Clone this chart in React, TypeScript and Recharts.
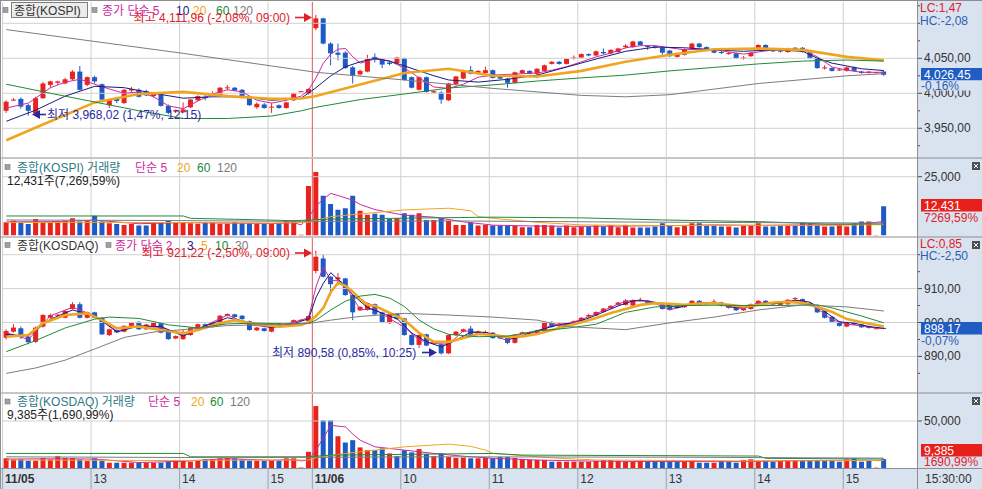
import React from 'react';
import { ComposedChart, Bar, Line, XAxis, YAxis, ReferenceLine, Cell } from 'recharts';

type Ohlc = [number, number, number, number];
type Pt = [number, number];

// 5-minute slots: 11/05 12:00 .. 15:25 (0-41), 11/06 09:00 .. 15:25 (42-119), 4 empty slots
const SLOT_COUNT = 124;
const HOUR_SLOTS = [0, 12, 24, 36, 42, 54, 66, 78, 90, 102, 114];
const HOUR_LABELS = ['11/05', '13', '14', '15', '11/06', '10', '11', '12', '13', '14', '15'];
const DAY_SLOT = 42;

// [open, high, low, close]
const kospiCandles: Ohlc[] = [
  [3975, 3990, 3972, 3988], [3990, 3993, 3989, 3991], [3992, 3994, 3978, 3981], [3983, 3985, 3968.02, 3975],
  [3971, 3995, 3970, 3993], [3993, 4016, 3992, 4014], [4012, 4018, 4008, 4017], [4015, 4018, 4012, 4017],
  [4014, 4022, 4013, 4020], [4020, 4033, 4019, 4031], [4031, 4039, 4004, 4005], [4012, 4024, 4010, 4023],
  [4023, 4025, 4014, 4017], [4013, 4014, 3989, 3991], [3983, 3992, 3979, 3991], [3992, 3995, 3986, 3989],
  [3986, 4006, 3985, 4005], [4004, 4009, 4002, 4006], [4005, 4007, 3994, 3995], [4003, 4005, 3996, 3997],
  [3996, 4001, 3994, 4000], [4000, 4001, 3981, 3982], [3982, 3984, 3970, 3972], [3974, 3977, 3972, 3976],
  [3973, 3987, 3972, 3977], [3980, 3992, 3979, 3991], [3990, 3997, 3989, 3996], [3995, 3998, 3990, 3993],
  [3997, 4003, 3996, 3999], [3996, 4009, 3995, 4008], [4008, 4012, 4004, 4008.5], [4008, 4009, 4003, 4004],
  [4005, 4006, 3993, 3994], [3995, 3996, 3982, 3983], [3980, 3987, 3978, 3985], [3984, 3986, 3978, 3979],
  [3980, 3986, 3972, 3981], [3983, 3984, 3978, 3979], [3979, 3988, 3978, 3987], [3990, 4001, 3989, 4000],
  [4002, 4003.5, 4002, 4003], [3999, 4007, 3998, 4006],
  [4093, 4111.96, 4090, 4107], [4107, 4108, 4070, 4071], [4071, 4073, 4040, 4057], [4058, 4071, 4047, 4055],
  [4058, 4060, 4035, 4036], [4037, 4039, 4014, 4025], [4027, 4034, 4025, 4032], [4031, 4055, 4030, 4049],
  [4052, 4057, 4044, 4048], [4048, 4050, 4036, 4041], [4044, 4046, 4040, 4042], [4043, 4052, 4042, 4051],
  [4050, 4051, 4018, 4019], [4023, 4024, 4007, 4008], [4005, 4024, 4004, 4023], [4023, 4024, 4001, 4002],
  [4001, 4004, 4000, 4003], [4001, 4003, 3985, 3991], [3990, 4015, 3989, 4014], [4013, 4025, 4012, 4024],
  [4021, 4034, 4020, 4033], [4033, 4039, 4027, 4028], [4029, 4033, 4028, 4032], [4029, 4038, 4028, 4033],
  [4033, 4034, 4021, 4022], [4024, 4025, 4020, 4021], [4021, 4022, 4008, 4015], [4015, 4031, 4014, 4030],
  [4029, 4034, 4028, 4033], [4032, 4033, 4027, 4028], [4028, 4036, 4022, 4035], [4032, 4041, 4031, 4040],
  [4042, 4046, 4041, 4045], [4045, 4046, 4041, 4042], [4042, 4050, 4041, 4049], [4050, 4054, 4048, 4051],
  [4051, 4057, 4050, 4056], [4056, 4057, 4053, 4054], [4054, 4061, 4053, 4060], [4059, 4064, 4056, 4057],
  [4057, 4063, 4056, 4062], [4059, 4065, 4058, 4064], [4066, 4070, 4064, 4068], [4066, 4075, 4065, 4074],
  [4074, 4075, 4068, 4069], [4068, 4069, 4062, 4066], [4067, 4068, 4064, 4065], [4065, 4066, 4055, 4058],
  [4061, 4062, 4052, 4053], [4052, 4058, 4051, 4057], [4055, 4064, 4054, 4063], [4064, 4072, 4063, 4071],
  [4071, 4072, 4065, 4066], [4066, 4067, 4062, 4063], [4063, 4064, 4057, 4058], [4059, 4061, 4056, 4058],
  [4057, 4059, 4055, 4057.5], [4057, 4058, 4049, 4050], [4050, 4053, 4048, 4051], [4053, 4059, 4052, 4058],
  [4063, 4070, 4062, 4069], [4069, 4070, 4063, 4064], [4064, 4065, 4059, 4060], [4061, 4063, 4058, 4060],
  [4059, 4065, 4058, 4064], [4065, 4066, 4061, 4062], [4065, 4066, 4058, 4059], [4058, 4059, 4049, 4050],
  [4050, 4051, 4035, 4036], [4036, 4040, 4034, 4037], [4036, 4037, 4031, 4032], [4033, 4036, 4032, 4034],
  [4032, 4038, 4031, 4037], [4037, 4038, 4031, 4032], [4031, 4032, 4028, 4029], [4029, 4032, 4028, 4031],
  [4030, 4030.5, 4029.5, 4030], [4031, 4032, 4025, 4026.45],
];

const kosdaqCandles: Ohlc[] = [
  [895.5, 898, 895, 897.5], [897.3, 899.5, 897, 898.5], [898.3, 898.8, 895.2, 895.7], [895.8, 896.2, 893.6, 894.2],
  [894.3, 898.8, 894, 898.5], [898.8, 902.5, 898.5, 902.2], [901.4, 902.6, 901.2, 902.2], [902, 902.6, 901.8, 902.3],
  [901.4, 903.6, 901.2, 903.4], [904, 906, 903.8, 905.4], [905.4, 906, 901.2, 901.4], [901.4, 903.2, 901.2, 903],
  [903, 903.2, 901.2, 901.4], [901.4, 901.6, 896.3, 896.5], [896.3, 898.2, 896, 898], [897.8, 898, 896.9, 897.1],
  [897.3, 899.2, 897.1, 899], [899, 900.2, 898.8, 900], [900.2, 900.4, 897.8, 898], [898, 899.6, 897.8, 899.4],
  [899, 900.2, 898.8, 900], [899.8, 900, 896.8, 897], [897.3, 897.5, 894.9, 895.1], [895.3, 896.2, 895.1, 896],
  [895.1, 898, 894.9, 896.8], [896.3, 898.7, 896.1, 898.5], [898.4, 899.7, 898.2, 899.5], [899.5, 899.7, 898.5, 898.7],
  [898.7, 900, 898.5, 899.8], [899.3, 902.2, 899.1, 902], [902, 902.7, 901.8, 902.5], [902.4, 902.6, 901.4, 901.6],
  [902, 902.2, 900.8, 901], [900.4, 900.6, 897.6, 897.8], [897.7, 898.7, 897.5, 898.5], [898.3, 898.5, 897.3, 897.5],
  [897.3, 899.7, 897.1, 899.5], [899.7, 899.9, 898.6, 898.8], [898.9, 899.7, 898.7, 899.5], [899.3, 900.9, 899.1, 900.7],
  [900.7, 900.9, 900.7, 900.8], [900.4, 902.1, 900.2, 901.9],
  [915.2, 921.22, 914.5, 919.4], [918.9, 920.1, 913.3, 913.5], [913.5, 913.7, 908, 911.3], [912.7, 914.6, 911, 913.3],
  [913, 913.2, 907.9, 908.1], [908.1, 908.3, 900.7, 903], [903.6, 904.8, 903.4, 904.6], [903.7, 905.9, 903.5, 905.7],
  [905.4, 905.6, 902.2, 902.4], [903, 903.2, 899.8, 900], [899.8, 902.4, 899.6, 902.2], [902.6, 902.8, 900.8, 901],
  [901.2, 901.4, 896.1, 896.3], [896.3, 896.5, 893.2, 893.4], [893.4, 896.5, 892.5, 896.3], [896.5, 896.7, 893, 893.2],
  [893.7, 894.6, 893.5, 894.4], [893.6, 893.8, 890.58, 890.9], [890.9, 896.5, 890.7, 896.3], [896.3, 897.5, 896.1, 897.3],
  [897.3, 898.2, 897.1, 898], [898.2, 899, 896.2, 896.4], [896.7, 897.6, 896.5, 897.4], [897.1, 897.6, 896.9, 897.2],
  [897, 897.2, 895.2, 895.4], [895.9, 896.1, 895.1, 895.3], [895.9, 896.1, 893.6, 894], [894, 896.6, 893.8, 896.4],
  [896.6, 897.3, 896.4, 897.1], [896.7, 897.4, 896.5, 897.2], [896.8, 897.9, 896.6, 897.7], [897.5, 900.1, 897.3, 899.9],
  [900, 900.4, 898.5, 898.7], [898.9, 899.9, 898.7, 899.7], [899, 899.8, 898.8, 899.6], [899.3, 900.6, 899.1, 900.4],
  [900.4, 901.6, 900.2, 901.4], [901.8, 902.6, 901.4, 902.2], [902.1, 903.3, 901.9, 903.1], [903.1, 904.3, 902.9, 904.1],
  [904.2, 905.1, 904, 904.9], [905.2, 906.1, 905, 905.9], [905.2, 906.9, 905, 906.5], [905, 906.8, 904.8, 906.6],
  [906.6, 907.3, 906.2, 906.7], [906.3, 906.5, 905.6, 905.8], [906, 906.2, 905.3, 905.5], [905.7, 905.9, 903.8, 904],
  [905, 905.2, 903.5, 903.7], [905, 905.2, 904.2, 904.4], [904.5, 905.4, 904.3, 905.2], [905.2, 906.6, 905, 906.4],
  [906.4, 906.6, 905.2, 905.4], [905.8, 906, 905.2, 905.4], [906, 906.8, 905.6, 906.2], [905.9, 906.1, 904.7, 904.9],
  [904.9, 905.1, 904.1, 904.3], [904.6, 904.8, 903.4, 903.6], [903.6, 904.7, 903.4, 904.5], [904, 905.6, 903.8, 905.4],
  [905.4, 906.6, 905.2, 906.4], [906.4, 906.6, 905.2, 905.4], [905.9, 906.1, 905.2, 905.4], [905.2, 906.1, 905, 905.9],
  [905.4, 906.9, 905.2, 906.7], [906.9, 907.5, 906.7, 907.2], [906.9, 907.1, 905.5, 905.7], [905.7, 905.9, 905, 905.2],
  [905, 905.2, 902.8, 903], [903.4, 903.6, 901.2, 901.4], [901.7, 901.9, 900, 900.2], [900.2, 900.4, 898.8, 899],
  [898.8, 900.2, 898.6, 900], [900.1, 900.3, 899.2, 899.4], [899.4, 899.6, 898.4, 898.6], [898.9, 899.1, 898.2, 898.4],
  [898.3, 898.4, 898.2, 898.3], [898.4, 898.6, 898, 898.17],
];

const kospiVolume = [
  5600, 6300, 5500, 4900, 7000, 5500, 5500, 6000, 6300, 7300, 6000, 6300, 8400, 6000, 5200, 4900, 4500, 4900, 4200, 4200,
  5300, 5500, 6300, 5300, 5300, 5200, 5000, 5600, 5600, 5000, 5000, 5600, 5200, 5200, 5000, 5000, 4900, 5200, 6300, 6200,
  300, 21100,
  27000, 16900, 13400, 10900, 11600, 16900, 10500, 8800, 9200, 8800, 7000, 7300, 9500, 8800, 9500, 6600, 6600, 7300,
  6200, 4500, 4500, 5500, 4200, 4500, 4200, 4200, 4000, 4000, 3500, 3500, 4500, 4500, 4200, 3400, 4200, 3500, 3800, 3800,
  4200, 3800, 4500, 3500, 4500, 3400, 3400, 3400, 3800, 5200, 4200, 3500, 4500, 5200, 5200, 4500, 4200, 3800, 3800, 3400,
  4200, 4500, 5200, 3800, 3800, 4200, 4200, 4500, 5500, 5200, 4500, 3800, 3800, 4500, 3800, 5200, 6000, 6000, 200, 12431,
];

const kosdaqVolume = [
  10300, 9200, 9500, 7700, 7700, 10700, 9200, 12500, 10700, 10700, 9200, 7400, 10300, 7400, 5600, 5600, 5600, 5600, 5600, 5600,
  5600, 5600, 6700, 7700, 7700, 6700, 7700, 9200, 9500, 10300, 10700, 10300, 9200, 7700, 7700, 7700, 8500, 7700, 10300, 10300,
  500, 17200,
  65900, 50700, 50700, 33800, 27100, 29600, 21900, 19000, 19000, 20800, 15500, 12600, 19000, 16600, 20100, 14800, 12600, 15500,
  11800, 10700, 11100, 10300, 10300, 11100, 10300, 11800, 11800, 10700, 9200, 8500, 8500, 8500, 6700, 6700, 6700, 6700, 6700, 6700,
  7700, 8500, 8500, 7700, 6700, 6700, 7700, 6700, 6700, 6700, 6700, 6700, 6700, 7700, 5600, 5600, 5600, 7700, 6700, 5600,
  8500, 9200, 7700, 7700, 6700, 7700, 8500, 8500, 8500, 7700, 8500, 7700, 7700, 6700, 9200, 10300, 6700, 7700, 400, 9385,
];

// moving averages: [slot, value]
const kospiMa5: Pt[] = [
  [0, 3979], [3, 3986], [6, 4008], [8, 4016], [10, 4020], [12, 4013], [14, 4006], [16, 4000], [18, 4002], [20, 3995],
  [22, 3982], [24, 3978], [26, 3989], [28, 3999], [30, 4005], [32, 4002], [34, 3990], [36, 3986], [38, 3990], [40, 3996],
  [41, 4005], [42, 4022], [43, 4043], [44, 4056], [45, 4063], [46, 4064], [47, 4052], [48, 4043], [50, 4049], [52, 4046],
  [54, 4036], [56, 4022], [58, 4009], [60, 4007], [62, 4013], [64, 4023], [66, 4026], [68, 4027], [70, 4028], [72, 4029],
  [74, 4033], [76, 4038], [78, 4045], [80, 4052], [82, 4057.5], [84, 4065], [86, 4068], [88, 4068], [90, 4065], [92, 4062],
  [94, 4063], [96, 4062.5], [98, 4059], [100, 4056], [102, 4059], [104, 4062], [106, 4062], [108, 4062.5], [110, 4052],
  [112, 4037.5], [114, 4033], [116, 4030], [119, 4030],
];
const kospiMa10: Pt[] = [
  [0, 3960], [4, 3976], [8, 3996], [12, 4010], [16, 4008], [20, 4000], [24, 3993], [28, 3995], [32, 3995], [36, 3990],
  [40, 3993], [42, 4008], [44, 4025], [46, 4038], [48, 4045], [50, 4050], [52, 4046], [54, 4039], [56, 4032], [58, 4025],
  [60, 4019], [64, 4016], [68, 4020], [72, 4026], [76, 4037.5], [80, 4049], [84, 4060], [88, 4066], [92, 4065], [96, 4062],
  [100, 4060], [104, 4062], [108, 4060], [110, 4050], [112, 4043], [116, 4035], [119, 4032.5],
];
const kospiMa20: Pt[] = [
  [0, 3933], [6, 3960], [12, 3987], [18, 3999], [24, 4002], [30, 3996], [36, 3992], [40, 3992.5], [42, 3996], [48, 4012.5],
  [54, 4029], [60, 4035], [63, 4030], [66, 4025], [72, 4024], [78, 4032], [84, 4045], [90, 4055], [96, 4063], [102, 4064],
  [108, 4062], [114, 4052], [119, 4047],
];
const kospiMa60: Pt[] = [
  [0, 4013], [6, 4000], [12, 3987.5], [18, 3975], [24, 3964], [30, 3964], [36, 3967.5], [40, 3975], [42, 3980], [48, 3991],
  [54, 3999], [60, 4007.5], [66, 4012], [72, 4017.5], [78, 4022], [84, 4026], [90, 4032], [96, 4037], [102, 4042], [108, 4046],
  [114, 4047.5], [119, 4046],
];
const kospiMa120: Pt[] = [
  [0, 4091], [12, 4074], [24, 4057], [36, 4039], [42, 4030], [54, 4019], [66, 4007], [78, 3997], [84, 3995], [90, 3998],
  [102, 4014], [114, 4025], [119, 4028],
];

const kosdaqMa2: Pt[] = [
  [0, 897], [3, 895], [6, 902], [9, 904.5], [12, 902], [15, 897.5], [18, 899], [21, 898.5], [24, 896.4], [27, 899.1],
  [30, 902.2], [33, 899.4], [36, 898.5], [39, 900.1], [41, 901.4], [42, 910.6], [43, 916.4], [44, 912.4], [45, 912.3],
  [46, 910.7], [48, 903.8], [50, 904], [52, 901.1], [54, 898.6], [56, 894.8], [58, 893.8], [60, 893.6], [62, 897.6],
  [64, 896.9], [66, 896.3], [68, 894.6], [70, 896.8], [72, 897.2], [74, 899.3], [76, 899.6], [78, 900.9], [80, 902.6],
  [82, 904.5], [84, 906.3], [86, 906.6], [88, 905.6], [90, 903.8], [92, 904.8], [94, 905.9], [96, 905.8], [98, 904.6],
  [100, 904.1], [102, 905.9], [104, 905.4], [106, 906.3], [108, 906.4], [110, 904.1], [112, 900.8], [114, 899.5],
  [116, 899], [118, 898.4], [119, 898.2],
];
const kosdaqMa3: Pt[] = [
  [0, 896.5], [3, 896], [6, 901], [9, 903.7], [12, 902], [15, 897.2], [18, 899], [21, 898.8], [24, 896], [27, 899],
  [30, 901.4], [33, 900], [36, 898.5], [39, 899.7], [41, 901.1], [42, 907.4], [43, 911.6], [44, 914.7], [45, 912.7],
  [46, 910.9], [47, 908.1], [49, 904.4], [51, 902.7], [53, 901.1], [55, 896.9], [57, 894.3], [59, 892.8], [61, 894.8],
  [63, 897.2], [65, 897.1], [67, 896], [69, 895.2], [71, 897], [73, 898.2], [75, 899.4], [77, 899.9], [79, 901.3],
  [81, 903.1], [83, 904.9], [85, 906.4], [87, 906.4], [89, 905.4], [91, 904.4], [93, 905.3], [95, 905.7], [97, 905.5],
  [99, 904.3], [101, 904.7], [103, 905.7], [105, 905.6], [107, 906.6], [109, 906], [111, 903.2], [113, 900.2],
  [115, 899.8], [117, 898.8], [119, 898.3],
];
const kosdaqMa5: Pt[] = [
  [0, 895.8], [3, 896.3], [5, 899.8], [8, 902.2], [11, 902.7], [13, 900.7], [15, 898.3], [18, 898.8], [21, 897.8],
  [24, 896.8], [26, 897.8], [29, 899.8], [31, 900.7], [34, 899.5], [37, 898.8], [40, 899.3], [41, 900.1], [42, 901.9],
  [43, 904.3], [44, 909], [45, 911.7], [46, 910.8], [47, 909.1], [48, 906.9], [49, 905.2], [50, 904.9], [52, 902.8],
  [54, 900.7], [56, 896.9], [58, 894.3], [60, 894.3], [62, 895.4], [64, 896.6], [66, 896.3], [68, 895.7], [70, 895.9],
  [72, 896.6], [74, 897.8], [76, 899], [78, 900.1], [80, 901.3], [82, 902.8], [84, 904], [86, 905.2], [88, 905.7],
  [90, 905.5], [92, 905.2], [94, 905.6], [96, 905.7], [98, 905.2], [100, 904.7], [102, 905.2], [104, 905.9],
  [106, 906.1], [108, 905.8], [110, 904.6], [112, 903.1], [114, 901], [116, 900.1], [119, 898.8],
];
const kosdaqMa10: Pt[] = [
  [0, 891.4], [4, 894.7], [8, 898.4], [12, 901], [14, 901.6], [18, 901.2], [22, 899.3], [26, 898.4], [30, 899.6],
  [34, 899.8], [38, 899.6], [41, 899.8], [42, 900.7], [44, 903.7], [46, 906.3], [48, 907.8], [50, 908.3], [52, 907.2],
  [54, 904.7], [56, 900.7], [58, 898.1], [60, 896.5], [64, 895.8], [68, 896], [72, 897.5], [76, 898.3], [80, 899.5],
  [84, 903], [88, 904.6], [92, 905], [96, 905.1], [100, 905], [104, 905], [110, 905.2], [112, 904.3], [114, 903.1],
  [116, 901.9], [119, 899.9],
];
const kosdaqMa30: Pt[] = [
  [0, 885], [4, 886.6], [8, 888.9], [12, 892.2], [16, 895.6], [20, 897.2], [24, 897.9], [30, 899.1], [36, 899.4],
  [41, 899.7], [44, 900.7], [48, 901.8], [54, 902.7], [60, 902.2], [66, 901.6], [72, 900.7], [76, 898.8], [84, 897.9],
  [90, 899.9], [96, 901.6], [102, 903.7], [108, 905.2], [114, 904.6], [119, 903.4],
];

const kospiVolMa5: Pt[] = [
  [0, 5800], [6, 5900], [12, 6500], [18, 5000], [24, 5500], [30, 5300], [36, 5100], [39, 5400], [40, 4500], [41, 7800],
  [42, 12500], [43, 15500], [44, 17900], [45, 17000], [46, 16000], [47, 15000], [48, 13200], [50, 11000], [54, 8600],
  [58, 7800], [62, 5800], [66, 4400], [72, 4000], [78, 3900], [84, 4000], [90, 4200], [96, 4500], [102, 4300],
  [108, 4500], [114, 4600], [117, 5200], [119, 6000],
];
const kospiVolMa20: Pt[] = [
  [0, 5500], [12, 5600], [24, 5500], [36, 5300], [41, 5600], [42, 6500], [44, 8000], [54, 10900], [60, 11600],
  [63, 10500], [64, 8000], [66, 7300], [72, 5600], [78, 4500], [90, 4200], [100, 4300], [110, 4300], [119, 4600],
];
const kospiVolMa60: Pt[] = [
  [0, 8300], [24, 8300], [25, 7300], [31, 6900], [39, 6300], [44, 7000], [66, 7800], [78, 7500], [89, 6600],
  [102, 5900], [111, 4900], [119, 4900],
];
const kospiVolMa120: Pt[] = [[0, 6600], [20, 6400], [40, 6000], [60, 6200], [80, 5800], [100, 5500], [119, 5300]];

const kosdaqVolMa5: Pt[] = [
  [0, 9500], [6, 9800], [12, 9500], [18, 5800], [24, 7200], [30, 9800], [36, 8200], [39, 9000], [40, 7500], [41, 8500],
  [42, 19000], [43, 32000], [44, 45500], [45, 44500], [46, 43700], [47, 36000], [48, 29600], [50, 22500], [54, 19000],
  [58, 15500], [62, 12500], [66, 10300], [72, 8500], [80, 7200], [90, 6800], [100, 6800], [110, 8000], [116, 8200],
  [119, 7800],
];
const kosdaqVolMa20: Pt[] = [
  [0, 8500], [20, 8000], [41, 8500], [42, 11000], [46, 15500], [54, 22500], [60, 25400], [63, 23000], [65, 19000],
  [66, 15500], [75, 10300], [80, 8500], [100, 7500], [119, 8000],
];
const kosdaqVolMa60: Pt[] = [
  [0, 15500], [24, 15500], [25, 11900], [41, 11900], [44, 13700], [66, 15500], [70, 13700], [102, 12700], [103, 10300],
  [119, 9500],
];
const kosdaqVolMa120: Pt[] = [[0, 11900], [30, 11000], [60, 11900], [90, 11500], [119, 10500]];

const FONT = "'Liberation Sans', 'Noto Sans CJK KR', sans-serif";
const UP = '#e8231e';
const DOWN = '#1d5ac6';
const GRID = '#d0d0d0';
const DAY_LINE = '#e05858';
const AXIS_BG = '#d9e2ef';
const BORDER = '#8e8e8e';
const C_MAG = '#cc2aa0';
const C_NAVY = '#1a1a7e';
const C_ORANGE = '#f0a520';
const C_GREEN = '#22893a';
const C_GRAY = '#7c7c7c';
const C_TEAL = '#2c7c84';
const C_LOWTXT = '#2a2aa0';

const W = 982;
const PLOT_LEFT = 2.6;
const AXIS_W = 65;

const priceFmt = (v: number) =>
  v.toLocaleString('en-US', { minimumFractionDigits: 2, maximumFractionDigits: 2 }).replace(/\.(\d\d)$/, ',$1');
const volFmt = (v: number) => v.toLocaleString('en-US');

function lookup(points: Pt[]) {
  const m = new Map(points);
  return (i: number) => (m.has(i) ? (m.get(i) as number) : null);
}

function priceRows(candles: Ohlc[], mas: Pt[][]) {
  const fns = mas.map(lookup);
  return Array.from({ length: SLOT_COUNT }, (_, i) => {
    const row: any = { i };
    const k = candles[i];
    if (k) {
      row.o = k[0];
      row.h = k[1];
      row.l = k[2];
      row.c = k[3];
      row.range = [k[2], k[1]];
    }
    fns.forEach((f, j) => (row['m' + j] = f(i)));
    return row;
  });
}

function volumeRows(vols: number[], candles: Ohlc[], mas: Pt[][]) {
  const fns = mas.map(lookup);
  return Array.from({ length: SLOT_COUNT }, (_, i) => {
    const row: any = { i, v: i < vols.length ? vols[i] : null, up: candles[i] ? candles[i][3] >= candles[i][0] : true };
    fns.forEach((f, j) => (row['m' + j] = f(i)));
    return row;
  });
}

function Candle(props: any) {
  const { x, y, width, height, payload } = props;
  if (!payload || payload.o == null) return null;
  const { o, h, l, c } = payload;
  const color = c >= o ? UP : DOWN;
  const top = Math.min(y, y + height);
  const ht = Math.abs(height);
  const span = h - l;
  const py = (v: number) => (span > 0 ? top + ((h - v) / span) * ht : top);
  const b1 = py(Math.max(o, c));
  const b2 = py(Math.min(o, c));
  const cx = x + width / 2;
  return (
    <g>
      <line x1={cx} x2={cx} y1={top} y2={top + ht} stroke={color} strokeWidth={1} />
      <rect x={x} y={b1} width={width} height={Math.max(1, b2 - b1)} fill={color} />
    </g>
  );
}

function axisTick(labeled: number[], fmt: (v: number) => string) {
  return function Tick(props: any) {
    const { x, y, payload } = props;
    const v = payload.value;
    const major = labeled.indexOf(v) >= 0;
    return (
      <g>
        <line x1={x} x2={x + (major ? 5 : 3)} y1={y} y2={y} stroke="#4a4a4a" />
        {major ? (
          <text x={x + 7} y={y} fill="#333" fontSize={12} fontFamily={FONT} dominantBaseline="central">
            {fmt(v)}
          </text>
        ) : null}
      </g>
    );
  };
}

function TimeTick(props: any) {
  const { x, y, payload } = props;
  const idx = HOUR_SLOTS.indexOf(payload.value);
  if (idx < 0) return null;
  const half = payload.offset != null ? payload.offset : 3.69;
  const x0 = x - half;
  const label = HOUR_LABELS[idx];
  return (
    <g>
      <line x1={x0} x2={x0} y1={y} y2={y + 21} stroke="#9aa3ae" />
      <text
        x={x0 + 2.5}
        y={y + 10.5}
        fill="#333"
        fontSize={12}
        fontFamily={FONT}
        fontWeight={label.indexOf('/') >= 0 ? 700 : 400}
        dominantBaseline="central"
      >
        {label}
      </text>
    </g>
  );
}

function gridLines(values: number[]) {
  return [
    ...values.map((v) => <ReferenceLine key={'h' + v} y={v} stroke={GRID} />),
    ...HOUR_SLOTS.map((s) => (
      <ReferenceLine key={'v' + s} x={s} position="start" stroke={s === DAY_SLOT ? DAY_LINE : GRID} />
    )),
  ];
}

type PanelProps = {
  top: number;
  height: number;
  rows: any[];
  domain: [number, number];
  ticks: number[];
  labeled: number[];
  grid: number[];
  colors: string[];
  widths: number[];
  volume?: boolean;
  timeAxis?: boolean;
};

function Panel({ top, height, rows, domain, ticks, labeled, grid, colors, widths, volume, timeAxis }: PanelProps) {
  return (
    <div style={{ position: 'absolute', left: 0, top }}>
      <ComposedChart width={W} height={height} data={rows} margin={{ top: 0, right: 0, bottom: 0, left: PLOT_LEFT }}>
        {timeAxis ? (
          <XAxis
            dataKey="i"
            type="category"
            height={21}
            ticks={HOUR_SLOTS}
            interval={0}
            tickSize={0}
            tickMargin={0}
            axisLine={false}
            tickLine={false}
            tick={TimeTick}
          />
        ) : (
          <XAxis dataKey="i" type="category" hide />
        )}
        <YAxis
          orientation="right"
          type="number"
          width={AXIS_W}
          domain={domain}
          allowDataOverflow
          ticks={ticks}
          interval={0}
          tickSize={0}
          tickMargin={0}
          axisLine={false}
          tickLine={false}
          tick={axisTick(labeled, volume ? volFmt : priceFmt)}
        />
        {gridLines(grid)}
        {volume ? (
          <Bar dataKey="v" barSize={5} isAnimationActive={false}>
            {rows.map((r, i) => (
              <Cell key={i} fill={r.up ? UP : DOWN} />
            ))}
          </Bar>
        ) : null}
        {colors.map((col, j) => (
          <Line
            key={j}
            dataKey={'m' + j}
            type="linear"
            stroke={col}
            strokeWidth={widths[j]}
            dot={false}
            activeDot={false}
            connectNulls
            isAnimationActive={false}
          />
        ))}
        {!volume ? <Bar dataKey="range" barSize={5} shape={Candle} isAnimationActive={false} /> : null}
      </ComposedChart>
    </div>
  );
}

function T({ x, y, c, children, anchor, size, weight }: any) {
  return (
    <text
      x={x}
      y={y}
      fill={c}
      fontSize={size || 12}
      fontWeight={weight || 400}
      fontFamily={FONT}
      textAnchor={anchor || 'start'}
      dominantBaseline="central"
    >
      {children}
    </text>
  );
}

function Arrow({ x1, x2, y, color }: { x1: number; x2: number; y: number; color: string }) {
  const d = x2 > x1 ? 1 : -1;
  return (
    <g>
      <line x1={x1} y1={y} x2={x2 - d * 6} y2={y} stroke={color} strokeWidth={1.6} />
      <path d={`M${x2},${y} L${x2 - d * 8},${y - 4.5} L${x2 - d * 8},${y + 4.5} Z`} fill={color} />
    </g>
  );
}

function Icon({ x, y }: { x: number; y: number }) {
  return <rect x={x} y={y} width={5} height={5} fill="#a0a0a0" stroke="#7a7a7a" strokeWidth={0.6} />;
}

function CloseBox({ x, y }: { x: number; y: number }) {
  return (
    <g>
      <rect x={x} y={y} width={8} height={8} fill="#505050" />
      <path d={`M${x + 2},${y + 2} L${x + 6},${y + 6} M${x + 6},${y + 2} L${x + 2},${y + 6}`} stroke="#fff" strokeWidth={1} />
    </g>
  );
}

function Tag({ y, text, fill }: { y: number; text: string; fill: string }) {
  return (
    <g>
      <rect x={921} y={y} width={61} height={12.5} fill={fill} />
      <T x={924} y={y + 6.5} c="#fff">
        {text}
      </T>
    </g>
  );
}

function Overlay() {
  return (
    <svg width={W} height={489} style={{ position: 'absolute', left: 0, top: 0, pointerEvents: 'none' }}>
      {/* frame and separators */}
      <line x1={0.5} y1={0} x2={0.5} y2={489} stroke={BORDER} />
      <line x1={0} y1={0.5} x2={W} y2={0.5} stroke={BORDER} />
      <line x1={917.5} y1={0} x2={917.5} y2={489} stroke={BORDER} />
      {[158, 237, 393, 468.5].map((y) => (
        <line key={y} x1={0} y1={y} x2={W} y2={y} stroke={BORDER} />
      ))}

      {/* KOSPI price header */}
      <Icon x={3} y={7.5} />
      <rect x={11.5} y={2.5} width={76} height={15} fill="#ececec" stroke="#7e7e7e" />
      <T x={14} y={10.5} c="#333">종합(KOSPI)</T>
      <Icon x={92} y={7.5} />
      <T x={102} y={10.5} c={C_MAG}>종가 단순 5</T>
      <T x={176} y={10.5} c={C_NAVY}>10</T>
      <T x={193} y={10.5} c={C_ORANGE}>20</T>
      <T x={216} y={10.5} c={C_GREEN}>60</T>
      <T x={233} y={10.5} c={C_GRAY}>120</T>
      <T x={290} y={17.5} c="#e0202a" anchor="end">최고 4,111,96 (-2,08%, 09:00)</T>
      <Arrow x1={295} x2={312} y={17.5} color="#e0202a" />
      <Arrow x1={46} x2={32} y={114.5} color={C_LOWTXT} />
      <T x={47} y={114.5} c={C_LOWTXT}>최저 3,968,02 (1,47%, 12:15)</T>

      {/* KOSPI price right labels */}
      <T x={920} y={7.5} c="#e0202a">LC:1,47</T>
      <T x={920} y={21} c="#2b5fb5">HC:-2,08</T>
      <Tag y={68} text="4,026,45" fill="#1f5cc4" />
      <rect x={918} y={80.5} width={64} height={10} fill={AXIS_BG} />
      <T x={921} y={86} c="#2b5fb5">-0,16%</T>

      {/* KOSPI volume header */}
      <Icon x={5} y={164.5} />
      <T x={17} y={167.5} c={C_TEAL}>종합(KOSPI) 거래량</T>
      <T x={135} y={167.5} c={C_MAG}>단순 5</T>
      <T x={177} y={167.5} c={C_ORANGE}>20</T>
      <T x={197} y={167.5} c={C_GREEN}>60</T>
      <T x={217} y={167.5} c={C_GRAY}>120</T>
      <T x={7} y={180.5} c="#222">12,431주(7,269,59%)</T>
      <CloseBox x={972} y={162} />
      <Tag y={199} text="12,431" fill="#e8201c" />
      <T x={924} y={218} c="#e0202a">7269,59%</T>

      {/* KOSDAQ price header */}
      <Icon x={5} y={242.5} />
      <T x={17} y={245.5} c="#333">종합(KOSDAQ)</T>
      <Icon x={106} y={242.5} />
      <T x={115} y={245.5} c={C_MAG}>종가 단순 2</T>
      <T x={187} y={245.5} c={C_NAVY}>3</T>
      <T x={201} y={245.5} c={C_ORANGE}>5</T>
      <T x={215} y={245.5} c={C_GREEN}>10</T>
      <T x={235} y={245.5} c={C_GRAY}>30</T>
      <T x={290} y={253} c="#e0202a" anchor="end">최고 921,22 (-2,50%, 09:00)</T>
      <Arrow x1={295} x2={312} y={253} color="#e0202a" />
      <T x={272} y={352.5} c={C_LOWTXT}>최저 890,58 (0,85%, 10:25)</T>
      <Arrow x1={422} x2={437} y={352.5} color={C_LOWTXT} />

      {/* KOSDAQ right labels */}
      <T x={920} y={243.5} c="#e0202a">LC:0,85</T>
      <T x={920} y={256} c="#2b5fb5">HC:-2,50</T>
      <CloseBox x={972} y={241} />
      <Tag y={322} text="898,17" fill="#1f5cc4" />
      <T x={921} y={340.5} c="#2b5fb5">-0,07%</T>

      {/* KOSDAQ volume header */}
      <Icon x={5} y={399} />
      <T x={17} y={402} c={C_TEAL}>종합(KOSDAQ) 거래량</T>
      <T x={148} y={402} c={C_MAG}>단순 5</T>
      <T x={191} y={402} c={C_ORANGE}>20</T>
      <T x={210} y={402} c={C_GREEN}>60</T>
      <T x={230} y={402} c={C_GRAY}>120</T>
      <T x={7} y={414.5} c="#222">9,385주(1,690,99%)</T>
      <CloseBox x={972} y={397} />
      <Tag y={444} text="9,385" fill="#e8201c" />
      <T x={924} y={461.5} c="#e0202a">1690,99%</T>

      <T x={925} y={479} c="#333">15:30:00</T>
    </svg>
  );
}

export default function App() {
  const kospiRows = priceRows(kospiCandles, [kospiMa5, kospiMa10, kospiMa20, kospiMa60, kospiMa120]);
  const kosdaqRows = priceRows(kosdaqCandles, [kosdaqMa2, kosdaqMa3, kosdaqMa5, kosdaqMa10, kosdaqMa30]);
  const kospiVolRows = volumeRows(kospiVolume, kospiCandles, [kospiVolMa5, kospiVolMa20, kospiVolMa60, kospiVolMa120]);
  const kosdaqVolRows = volumeRows(kosdaqVolume, kosdaqCandles, [
    kosdaqVolMa5,
    kosdaqVolMa20,
    kosdaqVolMa60,
    kosdaqVolMa120,
  ]);
  const maColors = [C_MAG, C_NAVY, C_ORANGE, C_GREEN, C_GRAY];
  const volColors = [C_MAG, C_ORANGE, C_GREEN, C_GRAY];

  return (
    <div
      style={{
        position: 'absolute',
        left: 0,
        top: 0,
        width: W,
        height: 489,
        background: '#fff',
        overflow: 'hidden',
        fontFamily: FONT,
      }}
    >
      <div style={{ position: 'absolute', left: 917, top: 0, width: W - 917, height: 489, background: AXIS_BG }} />
      <div style={{ position: 'absolute', left: 0, top: 469, width: W, height: 20, background: AXIS_BG }} />

      <Panel
        top={2}
        height={155}
        rows={kospiRows}
        domain={[3909, 4130.4]}
        ticks={[3925, 3950, 3975, 4000, 4025, 4050, 4075, 4100, 4125]}
        labeled={[3950, 4000, 4050]}
        grid={[3950, 4000, 4050, 4100]}
        colors={maColors}
        widths={[1, 1, 2.6, 1, 1]}
      />
      <Panel
        top={159}
        height={76.5}
        rows={kospiVolRows}
        domain={[0, 32530]}
        ticks={[25000]}
        labeled={[25000]}
        grid={[25000]}
        colors={volColors}
        widths={[1, 1, 1, 1]}
        volume
      />
      <Panel
        top={238}
        height={154}
        rows={kosdaqRows}
        domain={[879.5, 924.93]}
        ticks={[885, 890, 895, 900, 905, 910, 915, 920]}
        labeled={[890, 900, 910]}
        grid={[890, 900, 910, 920]}
        colors={maColors}
        widths={[1, 1, 2.6, 1, 1]}
      />
      <Panel
        top={394}
        height={95}
        rows={kosdaqVolRows}
        domain={[0, 78720]}
        ticks={[50000]}
        labeled={[50000]}
        grid={[50000]}
        colors={volColors}
        widths={[1, 1, 1, 1]}
        volume
        timeAxis
      />
      <Overlay />
    </div>
  );
}
